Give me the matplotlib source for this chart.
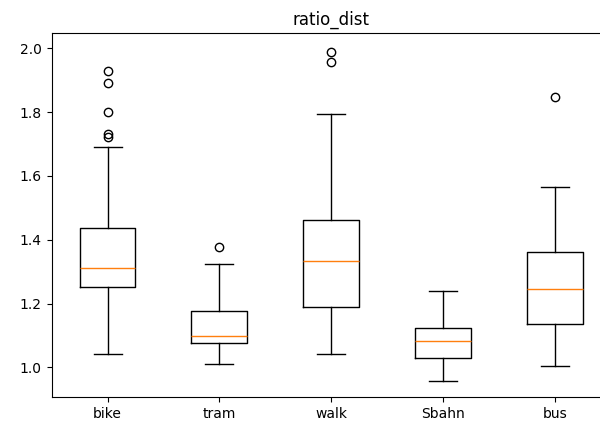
import matplotlib
matplotlib.use('Agg')
import matplotlib.pyplot as plt

# Werte
labels = ['bike', 'tram', 'walk', 'Sbahn', 'bus']
whislo = [1.042, 1.010, 1.042, 0.958, 1.005]
q1 = [1.251, 1.078, 1.189, 1.031, 1.136]
med = [1.313, 1.099, 1.335, 1.083, 1.245]
q3 = [1.438, 1.177, 1.461, 1.125, 1.361]
whishi = [1.690, 1.324, 1.795, 1.240, 1.564]
fliers = [
    [1.930, 1.890, 1.800, 1.730, 1.721],
    [1.376],
    [1.989, 1.958],
    [],
    [1.846],
]

stats = []
for i in range(len(labels)):
    stats.append({
        'label': labels[i],
        'whislo': whislo[i],
        'q1': q1[i],
        'med': med[i],
        'q3': q3[i],
        'whishi': whishi[i],
        'fliers': fliers[i],
    })

fig, ax = plt.subplots(figsize=(6, 4.26), dpi=100)
# rechter Rand ist im Original abgeschnitten
fig.subplots_adjust(left=0.086, right=1.018, top=0.922, bottom=0.067)
ax.bxp(stats)
ax.set_title('ratio_dist')
ax.set_ylim(0.906, 2.047)
ax.set_yticks([1.0, 1.2, 1.4, 1.6, 1.8, 2.0])
fig.savefig('out.png')
